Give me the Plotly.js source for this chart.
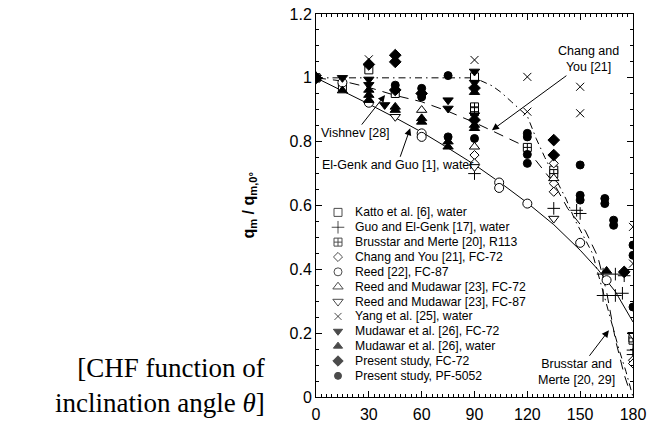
<!DOCTYPE html>
<html><head><meta charset="utf-8">
<script src="https://cdn.plot.ly/plotly-3.0.1.min.js"></script>
<style>html,body{margin:0;padding:0;background:#fff}#chart{width:659px;height:426px}</style>
</head><body><div id="chart"></div>
<script>
// ---------- tick labels ----------
const xTickVals = [0, 30, 60, 90, 120, 150, 180];
const yTickVals = [0, 0.2, 0.4, 0.6, 0.8, 1.0, 1.2];
const yTickText = ['0', '0.2', '0.4', '0.6', '0.8', '1', '1.2'];

// ---------- series names / symbols ----------
const seriesNames = [
  'Katto et al. [6], water',
  'Guo and El-Genk [17], water',
  'Brusstar and Merte [20], R113',
  'Chang and You [21], FC-72',
  'Reed [22], FC-87',
  'Reed and Mudawar [23], FC-72',
  'Reed and Mudawar [23], FC-87',
  'Yang et al. [25], water',
  'Mudawar et al. [26], FC-72',
  'Mudawar et al. [26], water',
  'Present study, FC-72',
  'Present study, PF-5052'
];
const seriesSymbols = ['square', 'cross-thin-open', 'square-cross', 'diamond', 'circle', 'triangle-up',
  'triangle-down', 'x-thin-open', 'triangle-down', 'triangle-up', 'diamond', 'circle'];
const seriesFill = ['white', 'black', 'white', 'white', 'white', 'white', 'white', 'black', 'black', 'black', 'black', 'black'];
const seriesSize = [8, 9, 8, 7, 9, 9, 9, 8, 9, 9, 9, 8];
const legendSize = [8, 9, 8, 7, 8, 9, 9, 7, 8, 8, 8, 7];

// ---------- data (theta in degrees, q_m/q_m,0) ----------
const kattoTheta = [0, 15, 30, 45, 90, 135, 180];
const kattoQ     = [1, 0.972, 1.025, 0.951, 1.003, 0.711, 0.178];

const guoTheta = [0, 90, 135, 148, 150, 163, 170, 175, 163, 170, 174, 180, 180];
const guoQ     = [1, 0.70, 0.591, 0.585, 0.575, 0.385, 0.385, 0.38, 0.318, 0.318, 0.325, 0.147, 0.133];

const brusstarTheta = [0, 90, 90, 120, 135, 180];
const brusstarQ     = [1, 0.909, 0.894, 0.782, 0.70, 0.185];

const changTheta = [0, 90, 90, 135, 135, 135, 180, 180];
const changQ     = [1, 0.758, 0.732, 0.732, 0.669, 0.643, 0.115, 0.105];

const reedTheta = [0, 15, 30, 60, 60, 104, 104, 120, 150, 165];
const reedQ     = [1, 0.985, 0.922, 0.826, 0.815, 0.672, 0.655, 0.606, 0.483, 0.366];

const rm72Theta = [0, 60, 90, 135];
const rm72Q     = [1, 0.899, 0.784, 0.685];

const rm87Theta = [0, 45, 90, 135, 180];
const rm87Q     = [1, 0.878, 0.721, 0.559, 0.195];

const yangTheta = [30, 90, 120, 120, 150, 150, 180, 180];
const yangQ     = [1.058, 1.056, 1.003, 0.894, 0.972, 0.889, 0.533, 0.418];

const mud72Theta = [0, 15, 30, 30, 39, 75, 75, 90, 90, 90];
const mud72Q     = [1, 1.0, 0.995, 0.978, 0.915, 0.93, 0.904, 1.02, 0.985, 0.883];

const mudWTheta = [0, 15, 30, 30, 30, 45, 45, 60, 60, 75, 75, 90, 90, 90, 165];
const mudWQ     = [1, 0.96, 0.962, 0.946, 0.93, 0.909, 0.899, 0.873, 0.862, 0.8, 0.784, 0.955, 0.852, 0.842, 0.395];

const pres72Theta = [0, 30, 45, 45, 45, 60, 90, 90, 135, 135, 175];
const pres72Q     = [1, 1.042, 1.071, 1.05, 0.962, 0.951, 0.968, 0.868, 0.805, 0.758, 0.392];

const pres5052Theta = [0, 45, 60, 60, 75, 75, 90, 120, 120, 120, 120, 150, 150, 150, 164, 164, 169, 169, 180, 180, 180];
const pres5052Q     = [1, 0.977, 0.967, 0.94, 1.007, 0.815, 0.81, 0.826, 0.815, 0.76, 0.732, 0.727, 0.632, 0.617, 0.622, 0.606, 0.554, 0.538, 0.476, 0.444, 0.282];

const seriesTheta = [kattoTheta, guoTheta, brusstarTheta, changTheta, reedTheta, rm72Theta, rm87Theta, yangTheta, mud72Theta, mudWTheta, pres72Theta, pres5052Theta];
const seriesQ = [kattoQ, guoQ, brusstarQ, changQ, reedQ, rm72Q, rm87Q, yangQ, mud72Q, mudWQ, pres72Q, pres5052Q];

// ---------- correlation curves ----------
const solidTheta = [0, 15, 30, 45, 60, 75, 90, 105, 120, 135, 150, 160, 170, 180];
const solidQ     = [1, 0.96, 0.918, 0.875, 0.83, 0.78, 0.728, 0.67, 0.608, 0.54, 0.46, 0.40, 0.33, 0.235];

const dashTheta = [0, 15, 30, 45, 60, 75, 90, 100, 115, 125, 135, 143, 153, 160, 165, 170, 175, 178];
const dashQ     = [1, 0.99, 0.97, 0.945, 0.925, 0.895, 0.86, 0.835, 0.795, 0.74, 0.67, 0.59, 0.52, 0.44, 0.33, 0.18, 0.07, 0.02];

const dashDotTheta = [0, 90, 100, 105, 111, 120, 125, 130, 142, 147, 157, 162, 167, 172, 176, 180];
const dashDotQ     = [1, 1, 0.975, 0.955, 0.925, 0.88, 0.81, 0.75, 0.62, 0.555, 0.45, 0.35, 0.25, 0.15, 0.08, 0.0];

// ---------- build ----------
const traces = [];
traces.push({x: solidTheta, y: solidQ, mode: 'lines', line: {color: 'black', width: 1}, hoverinfo: 'skip'});
traces.push({x: dashTheta, y: dashQ, mode: 'lines', line: {color: 'black', width: 1, dash: '10px,7px'}, hoverinfo: 'skip'});
traces.push({x: dashDotTheta, y: dashDotQ, mode: 'lines', line: {color: 'black', width: 1, dash: '7px,4px,1.5px,4px'}, hoverinfo: 'skip'});

for (let i = 0; i < seriesNames.length; i++) {
  traces.push({
    x: seriesTheta[i], y: seriesQ[i], mode: 'markers', name: seriesNames[i],
    marker: {symbol: seriesSymbols[i], size: seriesSize[i], color: seriesFill[i],
             line: {color: 'black', width: 1}}
  });
}

// custom key drawn on an overlay axis pair (0..1 in both directions)
const keyX = 0.0694, keyY0 = 0.482, keyDy = 0.0388, keyTextX = 0.118;
const keyYs = seriesNames.map((_, i) => keyY0 - i * keyDy);
traces.push({
  x: seriesNames.map(() => keyX), y: keyYs, xaxis: 'x2', yaxis: 'y2', mode: 'markers',
  marker: {symbol: seriesSymbols, size: legendSize, color: seriesFill, line: {color: 'black', width: 1}},
  hoverinfo: 'skip'
});

const annFont = {family: 'Arial, Liberation Sans, sans-serif', size: 12.5, color: 'black'};
const annotations = seriesNames.map((n, i) => ({
  xref: 'x2', yref: 'y2', x: keyTextX, y: keyYs[i], text: n, showarrow: false,
  xanchor: 'left', yanchor: 'middle', font: {family: 'Arial, Liberation Sans, sans-serif', size: 12.2, color: 'black'}
}));

// curve labels with arrows (arrow tip in data coords, label offset in px)
const arrowStyle = {showarrow: true, arrowhead: 2, arrowsize: 1.4, arrowwidth: 1, arrowcolor: 'black', font: annFont};
annotations.push(Object.assign({xref: 'x', yref: 'y', x: 39.2, y: 0.946, ax: -30, ay: 38, text: 'Vishnev [28]'}, arrowStyle));
annotations.push(Object.assign({xref: 'x', yref: 'y', x: 53.5, y: 0.842, ax: -13, ay: 37, text: 'El-Genk and Guo [1], water'}, arrowStyle));
annotations.push(Object.assign({xref: 'x', yref: 'y', x: 99.9, y: 0.836, ax: 97, ay: -71, text: 'Chang and<br>You [21]', align: 'center'}, arrowStyle));
annotations.push(Object.assign({xref: 'x', yref: 'y', x: 166.3, y: 0.209, ax: -32, ay: 42, text: 'Brusstar and<br>Merte [20, 29]', align: 'center'}, arrowStyle));

// y title
annotations.push({xref: 'paper', yref: 'paper', x: -0.211, y: 0.5, text: '<b>q<sub>m</sub> / q<sub>m,0°</sub></b>',
  textangle: -90, showarrow: false, xanchor: 'center', yanchor: 'middle',
  font: {family: 'Arial, Liberation Sans, sans-serif', size: 16, color: 'black'}});

// caption (one two-line text, right aligned)
annotations.push({xref: 'paper', yref: 'paper', x: -0.156, y: 0.03,
  text: '[CHF function of<br>inclination angle <i>θ</i>]', showarrow: false, xanchor: 'right', yanchor: 'middle', align: 'right',
  font: {family: 'Liberation Serif, Times New Roman, serif', size: 27, color: 'black'}});

const tickFont = {family: 'Arial, Liberation Sans, sans-serif', size: 16, color: 'black'};
const layout = {
  width: 659, height: 426,
  margin: {l: 316, r: 26, t: 14, b: 29},
  paper_bgcolor: 'white', plot_bgcolor: 'white',
  showlegend: false,
  xaxis: {range: [0, 180], tickmode: 'array', tickvals: xTickVals, ticks: 'inside', ticklen: 6,
    tickcolor: 'black', showline: true, linecolor: 'black', linewidth: 1, mirror: 'ticks',
    showgrid: false, zeroline: false, tickfont: tickFont, ticklabelstandoff: 3,
    minor: {dtick: 3, ticks: 'inside', ticklen: 3, tickcolor: 'black', showgrid: false}},
  yaxis: {range: [0, 1.2], tickmode: 'array', tickvals: yTickVals, ticktext: yTickText, ticks: 'inside', ticklen: 6,
    tickcolor: 'black', showline: true, linecolor: 'black', linewidth: 1, mirror: 'ticks',
    showgrid: false, zeroline: false, tickfont: tickFont,
    minor: {dtick: 0.05, ticks: 'inside', ticklen: 3, tickcolor: 'black', showgrid: false}},
  xaxis2: {range: [0, 1], overlaying: 'x', visible: false, fixedrange: true},
  yaxis2: {range: [0, 1], overlaying: 'y', visible: false, fixedrange: true},
  annotations: annotations
};

Plotly.newPlot('chart', traces, layout, {displayModeBar: false, staticPlot: true});
</script>
</body></html>
